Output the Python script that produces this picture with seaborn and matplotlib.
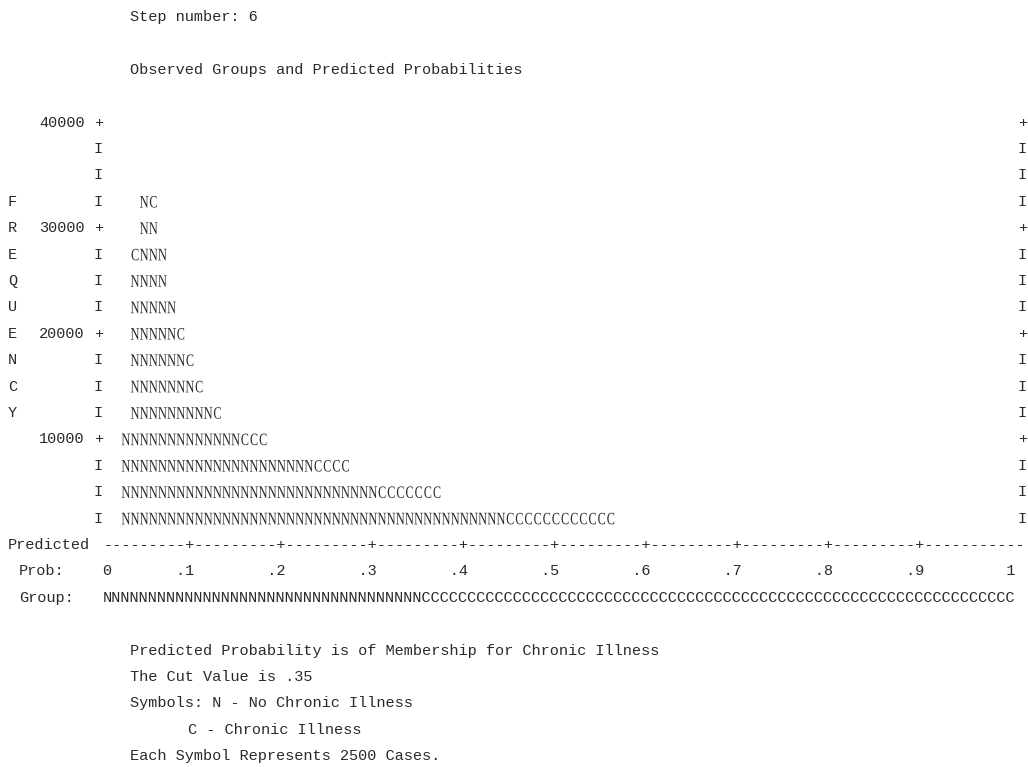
import numpy as np
import pandas as pd
import seaborn as sns
import matplotlib.pyplot as plt
from matplotlib.textpath import TextPath
from matplotlib.font_manager import FontProperties
from matplotlib.transforms import Affine2D
from matplotlib.markers import MarkerStyle

# values
step_number = 6
cut_value = 0.35
cases_per_symbol = 2500
freq_ticks = [10000, 20000, 30000, 40000]
freq_top = 40000
prob_labels = ['0', '.1', '.2', '.3', '.4', '.5', '.6', '.7', '.8', '.9', '1']
prob_bins = np.arange(2, 56) / 100
# symbols stacked in every probability column, bottom to top
stacks = (['NNNN', 'NNNNNNNNNNC', 'NNNNNNNNNNNNN', 'NNNNNNNNNNNNC', 'NNNNNNNNNNN',
           'NNNNNNNNN', 'NNNNNNNC', 'NNNNNNC', 'NNNNNC', 'NNNNN', 'NNNNC', 'NNNN', 'NNNN']
          + ['NNNC'] * 3 + ['NNN'] * 5 + ['NNC'] * 4 + ['NN'] * 3 + ['NC'] * 7
          + ['N'] * 7 + ['C'] * 12)
symbols = {'N': 'No Chronic Illness', 'C': 'Chronic Illness'}

rows = []
for p, st in zip(prob_bins, stacks):
    for i, ch in enumerate(st):
        rows.append({'prob': p, 'freq': (i + 1) * cases_per_symbol, 'symbol': ch})
df = pd.DataFrame(rows)

ink = '#2a2a2a'
plt.rcParams['font.family'] = 'Liberation Mono'
plt.rcParams['font.size'] = 10.98


def glyph_marker(ch, squeeze=0.7):
    tp = TextPath((0, 0), ch, size=1, prop=FontProperties(family='Liberation Serif'))
    ext = tp.get_extents()
    tp = tp.transformed(Affine2D().translate(-(ext.x0 + ext.x1) / 2, -(ext.y0 + ext.y1) / 2).scale(squeeze, 1))
    return MarkerStyle(tp)


fig = plt.figure(figsize=(10.28, 7.67), dpi=100)
ax = fig.add_axes([0, 0, 1, 1])

sns.scatterplot(data=df, x='prob', y='freq', style='symbol',
                markers={'N': glyph_marker('N'), 'C': glyph_marker('C')},
                s=70, color=ink, linewidth=0, legend=False, ax=ax)

ax.set_xlim(-0.1176, 1.0061)
ax.set_ylim(-21023, 51610)
ax.axis('off')


def line(col, v, s, ha='left'):
    # col is the character column, one column = .01 of probability
    x = (col - 0.5) / 100 if ha == 'left' else col / 100
    ax.text(x, v, s, ha=ha, va='center', color=ink)


line(3, 50000, f'Step number: {step_number}')
line(3, 45000, 'Observed Groups and Predicted Probabilities')

# frame of the plot
for k in range(1, freq_top // cases_per_symbol + 1):
    v = k * cases_per_symbol
    ch = '+' if v % 10000 == 0 else 'I'
    line(-1, v, ch, ha='center')
    line(100, v, ch, ha='center')
for v in freq_ticks:
    ax.text((-2 - 0.5) / 100, v, str(v), ha='right', va='center', color=ink)
for i, ch in enumerate('FREQUENCY'):
    line(-10.4, 32500 - i * cases_per_symbol, ch, ha='center')

# predicted probability axis
line(-10.38, 0, 'Predicted')
line(0, 0, '---------+' * 9 + '-' * 11)
prob_row = [' '] * 100
for i, lab in enumerate(prob_labels):
    end = min(i * 10, 99) if i in (0, 10) else i * 10 - 1
    start = end - len(lab) + 1
    prob_row[start:end + 1] = list(lab)
line(-9.2, -2500, 'Prob:')
line(0, -2500, ''.join(prob_row).rstrip())
n_cut = int(round(cut_value * 100))
line(-9.2, -5000, 'Group:')
line(0, -5000, 'N' * n_cut + 'C' * (100 - n_cut))

# notes under the plot
line(3, -10000, 'Predicted Probability is of Membership for Chronic Illness')
line(3, -12500, f'The Cut Value is {cut_value:.2f}'.replace('0.', '.'))
line(3, -15000, f'Symbols: N - {symbols["N"]}')
line(9.3, -17500, f'C - {symbols["C"]}')
line(3, -20000, f'Each Symbol Represents {cases_per_symbol} Cases.')

fig.savefig('out.png', dpi=100)
